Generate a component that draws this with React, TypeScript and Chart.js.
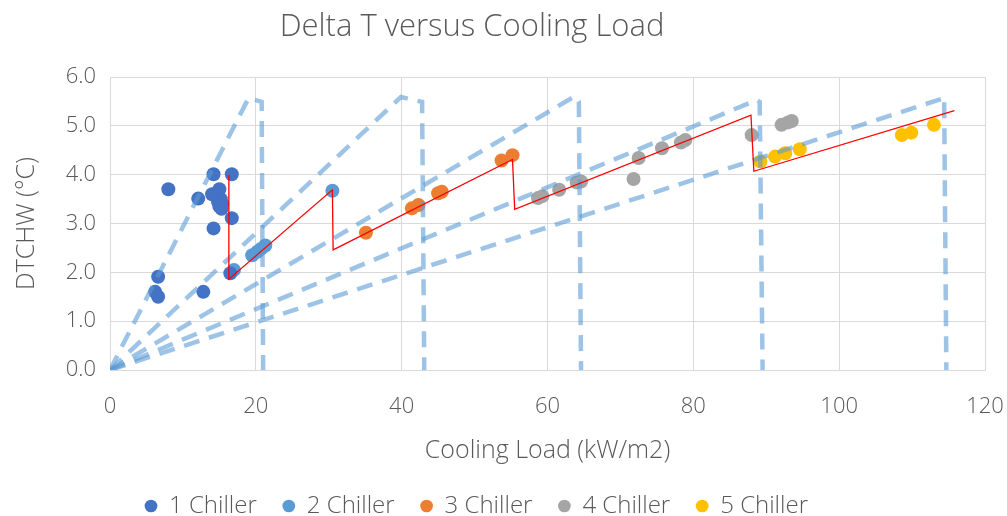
import React, { useEffect, useRef } from 'react';
import { Chart, registerables } from 'chart.js';

Chart.register(...registerables);

// ---------- data ----------
const seriesNames = ['1 Chiller', '2 Chiller', '3 Chiller', '4 Chiller', '5 Chiller'];
const seriesColors = ['#4472C4', '#5B9BD5', '#ED7D31', '#A5A5A5', '#FFC000'];

const chiller1: [number, number][] = [
  [8.0, 3.70], [14.2, 4.01], [16.7, 4.01], [12.1, 3.51], [14.0, 3.60], [15.0, 3.70],
  [14.6, 3.55], [15.2, 3.50], [14.8, 3.45], [15.4, 3.40], [15.0, 3.35], [15.3, 3.30],
  [16.7, 3.11], [14.2, 2.90], [6.6, 1.91], [6.2, 1.60], [6.6, 1.50], [12.8, 1.60], [16.5, 1.98],
];
const chiller2: [number, number][] = [
  [17.0, 2.05], [19.5, 2.35], [20.2, 2.42], [20.7, 2.48], [21.3, 2.55], [30.5, 3.67],
];
const chiller3: [number, number][] = [
  [35.1, 2.81], [41.4, 3.31], [42.3, 3.38], [45.0, 3.62], [45.5, 3.65], [53.7, 4.29], [55.2, 4.40],
];
const chiller4: [number, number][] = [
  [58.7, 3.52], [59.3, 3.56], [61.6, 3.69], [64.0, 3.84], [64.6, 3.86], [71.8, 3.91], [72.5, 4.34],
  [75.7, 4.54], [78.3, 4.66], [78.9, 4.71], [88.0, 4.81], [92.1, 5.02], [93.0, 5.07], [93.5, 5.10],
];
const chiller5: [number, number][] = [
  [89.2, 4.27], [91.2, 4.37], [92.6, 4.44], [94.6, 4.52], [108.6, 4.81], [109.9, 4.86], [113.0, 5.02],
];

// red operating line
const operatingLine: [number, number][] = [
  [16.3, 4.0], [16.3, 1.86], [30.5, 3.69], [30.6, 2.46], [55.2, 4.31], [55.5, 3.29],
  [87.9, 5.22], [88.3, 4.07], [115.8, 5.31],
];

// dashed capacity envelopes (one per number of chillers)
const envelope1: [number, number][] = [[0, 0], [19.0, 5.57], [20.8, 5.49], [21.0, 0]];
const envelope2: [number, number][] = [[0, 0], [39.9, 5.59], [42.8, 5.49], [43.1, 0]];
const envelope3: [number, number][] = [[0, 0], [63.8, 5.61], [64.3, 5.49], [64.6, 0]];
const envelope4: [number, number][] = [[0, 0], [88.7, 5.53], [89.1, 5.49], [89.5, 0]];
const envelope5: [number, number][] = [[0, 0], [114.6, 5.58], [114.4, 5.52], [114.7, 0]];

const xMin = 0, xMax = 120, xStep = 20;
const yMin = 0, yMax = 6, yStep = 1;

const titleText = 'Delta T versus Cooling Load';
const xTitle = 'Cooling Load (kW/m2)';
const yTitle = 'DTCHW (°C)';

// ---------- styling ----------
const FONT = "'Open Sans', 'DejaVu Sans', sans-serif";
const TEXT = '#595959';
const GRID = '#d9d9d9';

const toPts = (a: [number, number][]) => a.map(([x, y]) => ({ x, y }));

const layoutTweak = {
  id: 'layoutTweak',
  afterLayout(chart: any) {
    const t = chart.titleBlock;
    if (t) t.right -= 41;
    const l = chart.legend;
    if (l) {
      l.right -= 32;
      l.top += 12;
      l.bottom += 12;
    }
  },
};

export default function App() {
  const ref = useRef<HTMLCanvasElement>(null);

  useEffect(() => {
    const scatterSets = [chiller1, chiller2, chiller3, chiller4, chiller5].map((d, i) => ({
      type: 'scatter' as const,
      label: seriesNames[i],
      data: toPts(d),
      backgroundColor: seriesColors[i],
      borderColor: seriesColors[i],
      pointRadius: 7,
      pointBorderWidth: 0,
      pointStyle: 'circle',
      showLine: false,
      order: 2,
    }));
    const envSets = [envelope1, envelope2, envelope3, envelope4, envelope5].map((d, i) => ({
      type: 'scatter' as const,
      label: 'env' + (i + 1),
      data: toPts(d),
      showLine: true,
      borderColor: 'rgba(91,155,213,0.6)',
      backgroundColor: 'rgba(91,155,213,0.6)',
      borderWidth: 4.5,
      borderDash: [16, 10],
      pointRadius: 0,
      fill: false,
      tension: 0,
      order: 1,
    }));
    const redSet = {
      type: 'scatter' as const,
      label: 'operating',
      data: toPts(operatingLine),
      showLine: true,
      borderColor: '#FF0000',
      backgroundColor: '#FF0000',
      borderWidth: 1.3,
      pointRadius: 0,
      fill: false,
      tension: 0,
      order: 0,
    };

    const chart = new Chart(ref.current!, {
      type: 'scatter',
      data: { datasets: [redSet, ...envSets, ...scatterSets] as any },
      plugins: [layoutTweak],
      options: {
        animation: false,
        responsive: true,
        maintainAspectRatio: false,
        layout: { padding: { left: 0, right: 22, top: 0, bottom: 0 } },
        plugins: {
          tooltip: { enabled: false },
          title: {
            display: true,
            text: titleText,
            color: TEXT,
            font: { family: FONT, size: 31, weight: '300' as any },
            padding: { top: 9, bottom: 30.8 },
          },
          legend: {
            display: true,
            position: 'bottom',
            labels: {
              filter: (item: any) => seriesNames.includes(item.text),
              usePointStyle: true,
              pointStyle: 'circle',
              boxWidth: 12,
              boxHeight: 9,
              padding: 26,
              color: TEXT,
              font: { family: FONT, size: 24, weight: '300' as any },
            },
          },
        },
        scales: {
          x: {
            type: 'linear',
            min: xMin,
            max: xMax,
            ticks: {
              stepSize: xStep,
              padding: 24,
              color: TEXT,
              font: { family: FONT, size: 22, weight: '300' as any },
            },
            grid: { color: GRID, lineWidth: 1, drawTicks: false },
            border: { color: GRID },
            title: {
              display: true,
              text: xTitle,
              color: TEXT,
              font: { family: FONT, size: 25, weight: '300' as any },
              padding: { top: 0, bottom: -10 },
            },
            afterFit: (scale: any) => {
              scale.height = 516 - 370 - scale.chart.legend.height;
              scale.paddingLeft = 0;
              scale.paddingRight = 0;
            },
          },
          y: {
            type: 'linear',
            min: yMin,
            max: yMax,
            ticks: {
              stepSize: yStep,
              padding: 14,
              color: TEXT,
              font: { family: FONT, size: 22, weight: '300' as any },
              callback: (v: any) => Number(v).toFixed(1),
            },
            grid: { color: GRID, lineWidth: 1, drawTicks: false },
            border: { color: GRID },
            title: {
              display: true,
              text: yTitle,
              color: TEXT,
              font: { family: FONT, size: 25, weight: '300' as any },
              padding: { top: 12, bottom: 0 },
            },
            afterFit: (scale: any) => {
              scale.width = 110;
            },
          },
        },
      },
    });
    return () => chart.destroy();
  }, []);

  return (
    <div style={{ position: 'fixed', left: 0, top: 0, width: 1007, height: 516, background: '#fff' }}>
      <canvas ref={ref} />
    </div>
  );
}
